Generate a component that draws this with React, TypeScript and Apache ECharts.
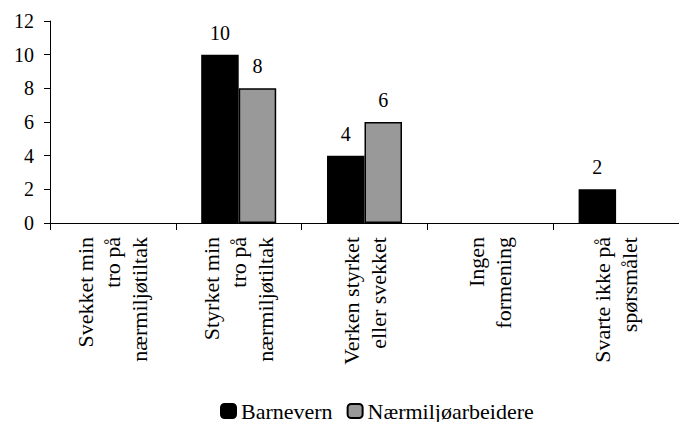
import React, { useEffect, useRef } from "react";
import * as echarts from "echarts";

const categories = [
  "Svekket min\ntro på\nnærmiljøtiltak",
  "Styrket min\ntro på\nnærmiljøtiltak",
  "Verken styrket\neller svekket",
  "Ingen\nformening",
  "Svarte ikke på\nspørsmålet",
];
const seriesNames = ["Barnevern", "Nærmiljøarbeidere"];
const barnevern = [0, 10, 4, 0, 2];
const naermiljo = [0, 8, 6, 0, 0];
const yTicks = [0, 2, 4, 6, 8, 10, 12];

const FONT = "Liberation Serif";

export default function App() {
  const ref = useRef<HTMLDivElement>(null);
  useEffect(() => {
    if (!ref.current) return;
    const chart = echarts.init(ref.current, null, { renderer: "svg" });
    const toData = (arr: number[]) => arr.map((v) => (v === 0 ? "-" : v));
    chart.setOption({
      animation: false,
      grid: { left: 50, width: 639, top: 21, bottom: 199 },
      legend: {
        data: seriesNames,
        left: 215,
        top: 395,
        itemWidth: 15,
        itemHeight: 14,
        itemGap: 14,
        textStyle: { fontFamily: FONT, fontSize: 22, color: "#000" },
      },
      xAxis: {
        type: "category",
        data: categories,
        axisLine: { lineStyle: { color: "#000", width: 1 } },
        axisTick: { show: true, length: 7, lineStyle: { color: "#000" } },
        axisLabel: {
          interval: 0,
          rotate: 90,
          margin: 14,
          color: "#000",
          fontFamily: FONT,
          fontSize: 22,
          lineHeight: 27,
        },
      },
      yAxis: {
        type: "value",
        min: yTicks[0],
        max: yTicks[yTicks.length - 1],
        interval: 2,
        splitLine: { show: false },
        axisLine: { show: true, lineStyle: { color: "#000", width: 1 } },
        axisTick: { show: true, length: 6, lineStyle: { color: "#000" } },
        axisLabel: { margin: 16, color: "#000", fontFamily: FONT, fontSize: 20 },
      },
      series: [
        {
          name: seriesNames[0],
          type: "bar",
          data: toData(barnevern),
          barWidth: 37.5,
          barGap: "0%",
          itemStyle: { color: "#000", borderColor: "#000", borderWidth: 1.5 },
          label: { show: true, position: "top", distance: 12, color: "#000", fontFamily: FONT, fontSize: 20 },
        },
        {
          name: seriesNames[1],
          type: "bar",
          data: toData(naermiljo),
          barWidth: 37.5,
          barGap: "0%",
          itemStyle: { color: "#999999", borderColor: "#000", borderWidth: 1.5 },
          label: { show: true, position: "top", distance: 12, color: "#000", fontFamily: FONT, fontSize: 20 },
        },
      ],
    });
    return () => chart.dispose();
  }, []);
  return (
    <div
      ref={ref}
      style={{ position: "absolute", left: 0, top: 0, width: 679, height: 422 }}
    />
  );
}
